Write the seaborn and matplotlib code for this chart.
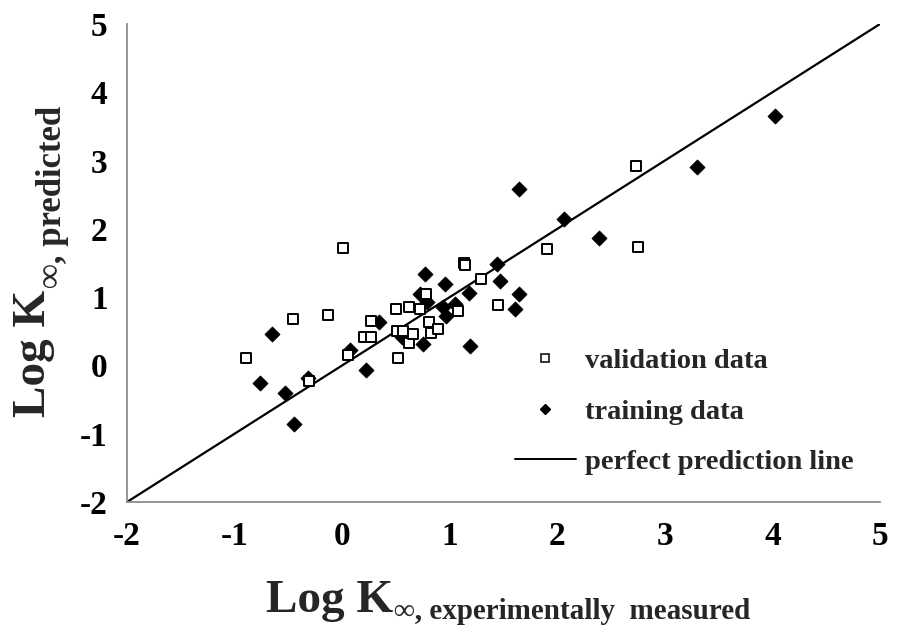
import matplotlib
matplotlib.use("Agg")
import matplotlib.pyplot as plt
import seaborn as sns
import pandas as pd
from matplotlib.lines import Line2D

# ---- data ----
train_x = [-0.65, -0.76, -0.53, -0.45, -0.32, 0.07, 0.22, 0.34, 0.56, 0.75,
           0.72, 0.77, 0.79, 0.94, 0.97, 0.96, 1.05, 1.18, 1.19, 1.44,
           1.47, 1.61, 1.64, 1.64, 2.06, 2.39, 3.30, 4.02]
train_y = [0.46, -0.25, -0.41, -0.86, -0.18, 0.22, -0.07, 0.64, 0.42, 0.31,
           1.04, 1.34, 0.93, 0.85, 0.72, 1.19, 0.90, 1.06, 0.29, 1.49,
           1.23, 0.82, 1.04, 2.58, 2.14, 1.87, 2.91, 3.65]

valid_x = [-0.89, -0.46, -0.13, 0.01, 0.05, 0.20, 0.27, 0.27, -0.31, 0.50,
           0.51, 0.52, 0.57, 0.62, 0.62, 0.66, 0.72, 0.78, 0.81, 0.83,
           0.89, 1.08, 1.13, 1.14, 1.29, 1.45, 1.90, 2.73, 2.75]
valid_y = [0.11, 0.68, 0.74, 1.72, 0.15, 0.42, 0.42, 0.65, -0.23, 0.82,
           0.50, 0.11, 0.50, 0.85, 0.33, 0.46, 0.82, 1.04, 0.63, 0.48,
           0.54, 0.79, 1.50, 1.47, 1.27, 0.88, 1.70, 2.92, 1.73]

line_x = [-2, 5]
line_y = [-2, 5]

x_ticks = [-2, -1, 0, 1, 2, 3, 4, 5]
y_ticks = [-2, -1, 0, 1, 2, 3, 4, 5]

labels = ["validation data", "training data", "perfect prediction line"]

# ---- style ----
sns.set_theme(style="white")
plt.rcParams["font.family"] = ["Liberation Serif", "DejaVu Serif"]
plt.rcParams["font.weight"] = "bold"

fig = plt.figure(figsize=(8.97, 6.34), dpi=100)
ax = fig.add_axes([127 / 897, 1 - 502 / 634, 753 / 897, 478 / 634])

train_df = pd.DataFrame({"x": train_x, "y": train_y})
valid_df = pd.DataFrame({"x": valid_x, "y": valid_y})
line_df = pd.DataFrame({"x": line_x, "y": line_y})

sns.lineplot(data=line_df, x="x", y="y", color="black", linewidth=1.6, ax=ax, zorder=2)
sns.scatterplot(data=train_df, x="x", y="y", marker="D", s=60, color="black",
                edgecolor="black", linewidth=0.5, ax=ax, zorder=3)
sns.scatterplot(data=valid_df, x="x", y="y", marker="s", s=60, facecolor="white",
                edgecolor="black", linewidth=1.4, ax=ax, zorder=4)

ax.set_xlim(-2, 5)
ax.set_ylim(-2, 5)
ax.set_xticks(x_ticks)
ax.set_yticks(y_ticks)
ax.set_xticklabels([str(t) for t in x_ticks])
ax.set_yticklabels([str(t) for t in y_ticks])
ax.set_xlabel("")
ax.set_ylabel("")

grey = "#8c8c8c"
for side in ["top", "right"]:
    ax.spines[side].set_visible(False)
for side in ["left", "bottom"]:
    ax.spines[side].set_color(grey)
    ax.spines[side].set_linewidth(1.3)
ax.tick_params(axis="both", which="major", direction="out", length=6, width=1.2,
               color=grey, labelsize=24, labelcolor="black")
ax.tick_params(axis="x", pad=8)
ax.tick_params(axis="y", pad=8)
for lab in ax.get_xticklabels() + ax.get_yticklabels():
    lab.set_fontweight("bold")

# ---- legend ----
handles = [
    Line2D([], [], linestyle="none", marker="s", markersize=5.5, markerfacecolor="white",
           markeredgecolor="black", markeredgewidth=1.1),
    Line2D([], [], linestyle="none", marker="D", markersize=5.4, markerfacecolor="black",
           markeredgecolor="black"),
    Line2D([], [], color="black", linewidth=1.4),
]
leg = ax.legend(handles, labels, loc="upper left", bbox_to_anchor=(0.515, 0.322),
                frameon=False, fontsize=20.5, handlelength=2.15, handletextpad=0.3,
                labelspacing=0.87, borderpad=0, borderaxespad=0)
for t in leg.get_texts():
    t.set_fontweight("bold")

# ---- axis labels (main text + smaller subscript part) ----
fam = ["Liberation Serif", "DejaVu Serif"]
xl = fig.text(393 / 897, 1 - 612 / 634, "Log K", fontsize=34, fontweight="bold",
              family=fam, ha="right", va="baseline")
ax.annotate("\u221e, experimentally  measured", xy=(1, 0), xycoords=xl,
            xytext=(1, -2), textcoords="offset points", fontsize=21,
            fontweight="bold", family=fam, ha="left", va="bottom")

yl = fig.text(55 / 897, 1 - 417 / 634, "Log K", fontsize=34, fontweight="bold",
              family=fam, rotation=90, ha="right", va="bottom")
ax.annotate("\u221e, predicted", xy=(1, 1), xycoords=yl,
            xytext=(10, 1), textcoords="offset points", fontsize=25,
            fontweight="bold", family=fam, rotation=90, ha="right", va="bottom")

fig.savefig("out.png", dpi=100, facecolor="white")
